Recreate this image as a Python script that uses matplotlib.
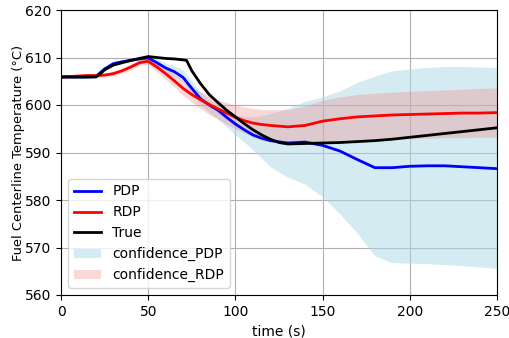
import numpy as np
import matplotlib
matplotlib.use("Agg")
import matplotlib.pyplot as plt

t = [0, 5, 10, 15, 20, 25, 30, 35, 40, 45, 50, 55, 60, 65, 70, 75, 80, 85, 90, 95,
     100, 105, 110, 115, 120, 130, 140, 150, 160, 170, 180, 190, 200, 210, 220,
     230, 240, 250]

pdp = [605.9, 605.9, 605.9, 605.9, 606.0, 607.6, 608.7, 609.1, 609.4, 609.7,
       609.9, 608.9, 607.8, 607.0, 605.8, 603.5, 601.3, 600.0, 598.9, 597.4,
       596.0, 594.8, 593.7, 593.0, 592.5, 592.0, 592.2, 591.5, 590.3, 588.5,
       586.8, 586.8, 587.1, 587.2, 587.2, 587.0, 586.8, 586.6]

rdp = [605.9, 606.0, 606.1, 606.2, 606.2, 606.3, 606.6, 607.2, 608.0, 608.9,
       609.2, 608.0, 606.6, 605.1, 603.5, 602.2, 601.1, 600.1, 599.2, 598.3,
       597.4, 596.7, 596.2, 595.9, 595.7, 595.4, 595.7, 596.6, 597.1, 597.5,
       597.7, 597.9, 598.0, 598.1, 598.2, 598.3, 598.3, 598.4]

pdp_lo = [605.6, 605.6, 605.6, 605.6, 605.7, 607.2, 608.3, 608.7, 609.0, 609.3,
          609.5, 608.2, 606.8, 606.0, 604.8, 602.4, 600.0, 598.4, 597.0, 595.4,
          593.7, 592.2, 590.6, 588.8, 587.0, 584.8, 583.3, 580.7, 577.0, 573.0,
          568.2, 566.8, 566.7, 566.6, 566.4, 566.2, 565.9, 565.6]
pdp_hi = [606.2, 606.2, 606.2, 606.2, 606.3, 608.0, 609.1, 609.5, 609.8, 610.1,
          610.3, 609.8, 608.8, 608.3, 607.3, 605.0, 602.7, 601.2, 599.9, 598.8,
          598.0, 597.6, 597.5, 597.8, 598.2, 599.3, 600.8, 601.7, 603.0, 604.8,
          606.1, 607.2, 607.6, 607.9, 608.1, 608.1, 608.0, 607.9]

rdp_lo = [605.5, 605.6, 605.7, 605.8, 605.8, 605.9, 606.1, 606.7, 607.4, 608.3,
          608.5, 607.0, 605.4, 603.8, 602.0, 600.6, 599.2, 598.0, 597.0, 595.9,
          595.0, 594.1, 593.3, 592.7, 592.2, 591.8, 592.0, 592.3, 592.5, 592.7,
          592.8, 592.9, 593.0, 593.0, 593.1, 593.1, 593.2, 593.2]
rdp_hi = [606.3, 606.4, 606.5, 606.6, 606.6, 606.7, 607.1, 607.7, 608.6, 609.5,
          609.9, 609.0, 607.8, 606.5, 605.0, 603.9, 602.8, 601.9, 601.1, 600.5,
          600.0, 599.6, 599.3, 599.1, 599.0, 599.0, 599.8, 601.0, 601.7, 602.2,
          602.5, 602.7, 602.9, 603.0, 603.2, 603.3, 603.5, 603.6]

t_true = [0, 20, 22, 25, 30, 35, 40, 45, 50, 55, 60, 65, 70, 72, 75, 80, 85, 90,
          95, 100, 105, 110, 115, 120, 125, 130, 140, 150, 160, 170, 180, 190,
          200, 210, 220, 230, 240, 250]
true = [605.9, 605.9, 606.4, 607.4, 608.4, 608.9, 609.4, 609.8, 610.2, 610.0,
        609.8, 609.7, 609.5, 609.4, 607.2, 604.5, 602.2, 600.5, 598.9, 597.5,
        596.1, 594.8, 593.7, 592.8, 592.1, 591.8, 591.9, 592.0, 592.1, 592.3,
        592.5, 592.8, 593.2, 593.6, 594.0, 594.4, 594.8, 595.2]

fig = plt.figure(figsize=(5.09, 3.38), dpi=100)
ax = fig.add_axes([61/509, 1-295/338, (497-61)/509, (295-10)/338])

ax.plot(t, pdp, color="blue", lw=2, label="PDP", zorder=3)
ax.plot(t, rdp, color="red", lw=2, label="RDP", zorder=3)
ax.plot(t_true, true, color="black", lw=2, label="True", zorder=4)
ax.fill_between(t, pdp_lo, pdp_hi, color="lightblue", alpha=0.5, lw=0,
                label="confidence_PDP")
ax.fill_between(t, rdp_lo, rdp_hi, color="lightcoral", alpha=0.3, lw=0,
                label="confidence_RDP")

ax.set_xlim(0, 250)
ax.set_ylim(560, 620)
ax.set_xticks([0, 50, 100, 150, 200, 250])
ax.set_yticks([560, 570, 580, 590, 600, 610, 620])
ax.grid(True)
ax.set_axisbelow(True)
ax.set_xlabel("time (s)")
ax.set_ylabel("Fuel Centerline Temperature (°C)", fontsize=9.4, labelpad=0)
ax.legend(loc="lower left")

fig.savefig("out.png", dpi=100)
